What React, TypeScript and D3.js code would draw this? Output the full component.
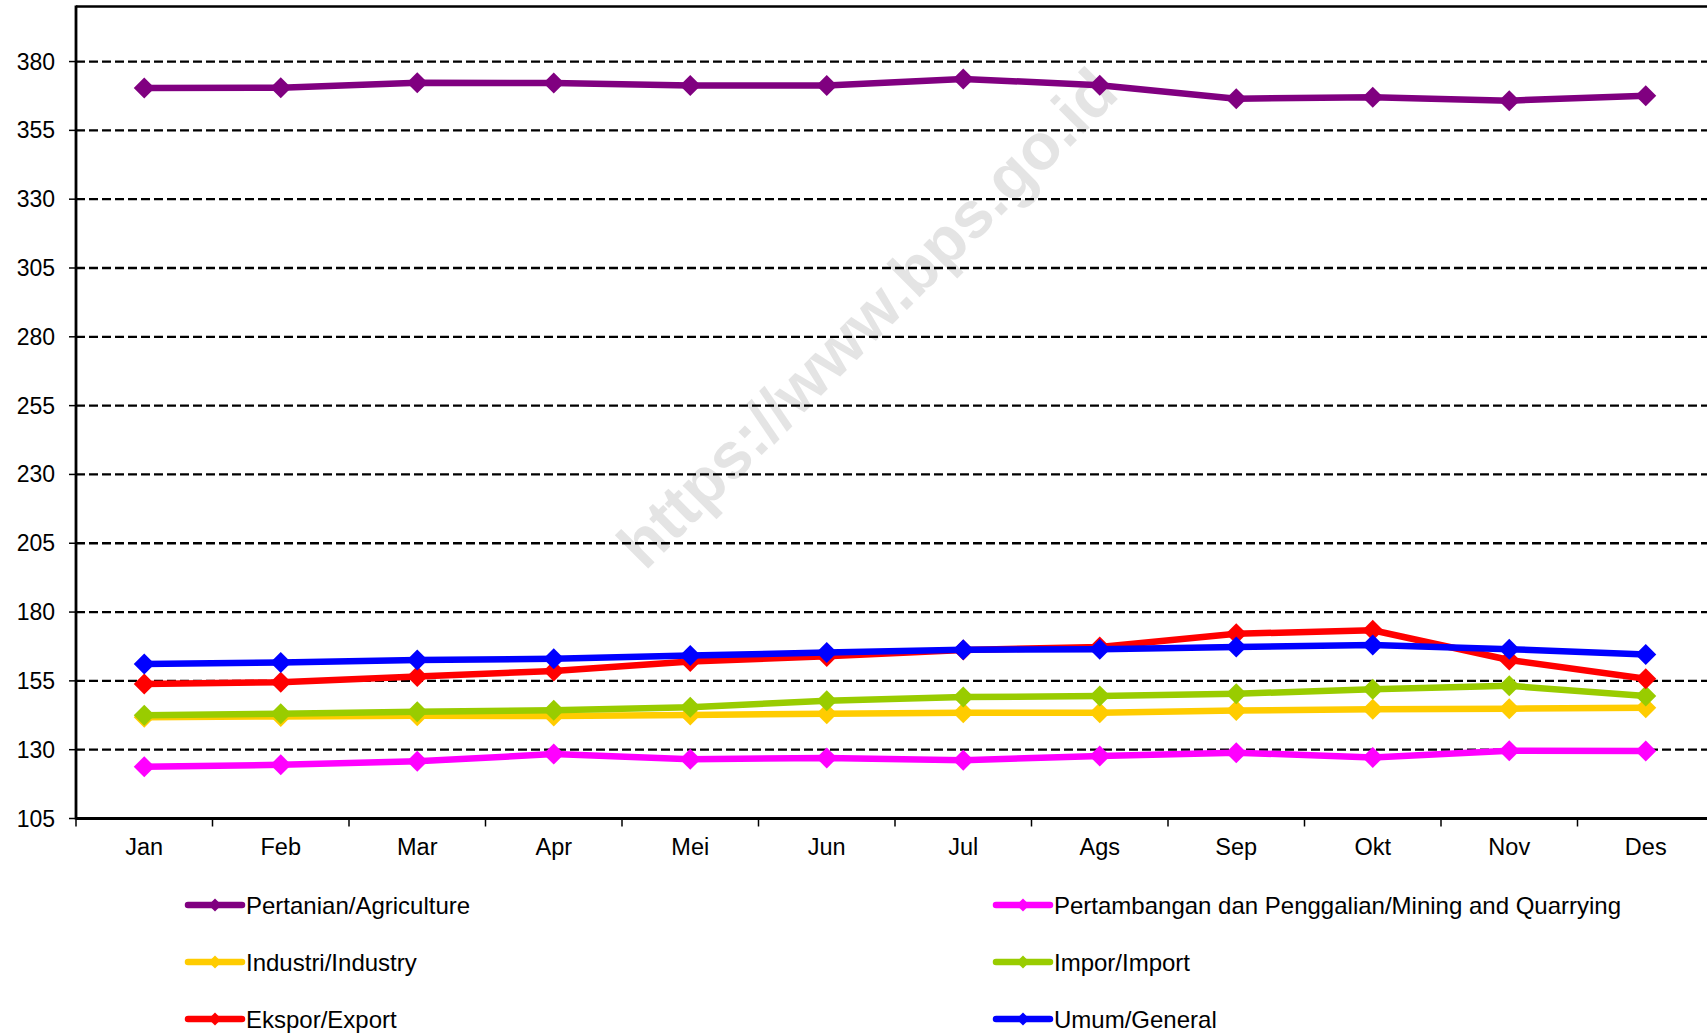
import React from "react";
import * as d3 from "d3";

const months = ["Jan", "Feb", "Mar", "Apr", "Mei", "Jun", "Jul", "Ags", "Sep", "Okt", "Nov", "Des"];
const yTicks = [105, 130, 155, 180, 205, 230, 255, 280, 305, 330, 355, 380];

const pertanian = [370.4, 370.5, 372.3, 372.2, 371.3, 371.3, 373.7, 371.4, 366.5, 367.0, 365.8, 367.6];
const pertambangan = [123.8, 124.5, 125.8, 128.4, 126.5, 127.0, 126.2, 127.7, 128.9, 127.2, 129.6, 129.5];
const industri = [141.8, 142.1, 142.3, 142.2, 142.6, 143.1, 143.4, 143.4, 144.2, 144.7, 144.9, 145.2];
const impor = [142.5, 143.1, 143.8, 144.3, 145.4, 147.8, 149.1, 149.5, 150.3, 152.0, 153.2, 149.5];
const ekspor = [153.9, 154.5, 156.6, 158.6, 162.0, 163.9, 166.2, 167.3, 172.1, 173.4, 162.6, 155.8];
const umum = [161.1, 161.7, 162.6, 163.0, 164.2, 165.3, 166.3, 166.5, 167.3, 168.0, 166.5, 164.6];

const seriesNames = [
  "Pertanian/Agriculture",
  "Pertambangan dan Penggalian/Mining and Quarrying",
  "Industri/Industry",
  "Impor/Import",
  "Ekspor/Export",
  "Umum/General",
];
const seriesColors = ["#800080", "#ff00ff", "#ffcc00", "#99cc00", "#ff0000", "#0000ff"];
const seriesValues = [pertanian, pertambangan, industri, impor, ekspor, umum];
const drawOrder = [0, 1, 2, 3, 4, 5];

const W = 1707;
const H = 1034;
const left = 76;
const top = 6.5;
const bottom = 818.5;
const band = 136.5;
const FONT = "'Liberation Sans', Arial, Helvetica, sans-serif";

export default function App() {
  const x = d3
    .scaleBand<string>()
    .domain(months)
    .range([left, left + band * months.length])
    .paddingInner(0)
    .paddingOuter(0);
  const y = d3.scaleLinear().domain([105, 400]).range([bottom, top]);
  const cx = (m: string) => (x(m) as number) + x.bandwidth() / 2;

  const line = d3
    .line<number>()
    .x((_, i) => cx(months[i]))
    .y((v) => y(v));

  const diamond = (px: number, py: number, r: number) =>
    `M${px},${py - r}L${px + r},${py}L${px},${py + r}L${px - r},${py}Z`;

  const legendItems = [
    { idx: 0, col: 0, row: 0 },
    { idx: 1, col: 1, row: 0 },
    { idx: 2, col: 0, row: 1 },
    { idx: 3, col: 1, row: 1 },
    { idx: 4, col: 0, row: 2 },
    { idx: 5, col: 1, row: 2 },
  ];
  const legendColX = [188, 996];
  const legendRowY = [905, 962, 1019];

  return (
    <svg
      width={W}
      height={H}
      style={{ position: "absolute", left: 0, top: 0, background: "#fff" }}
      fontFamily={FONT}
    >
      <rect x={0} y={0} width={W} height={H} fill="#fff" />
      <text
        x={0}
        y={0}
        transform={`translate(867,318) rotate(-45)`}
        textAnchor="middle"
        dominantBaseline="central"
        fontSize={65}
        fontWeight="bold"
        fill="#e4e4e4"
      >
        https://www.bps.go.id
      </text>
      {yTicks.slice(1).map((t) => (
        <line
          key={t}
          x1={left}
          x2={W}
          y1={y(t)}
          y2={y(t)}
          stroke="#000"
          strokeWidth={2.3}
          strokeDasharray="9,4"
        />
      ))}
      <line x1={left} x2={W} y1={top} y2={top} stroke="#000" strokeWidth={2.5} />
      <line x1={left} x2={left} y1={top - 1} y2={bottom + 1} stroke="#000" strokeWidth={2.8} />
      {yTicks.map((t) => (
        <g key={t}>
          <line x1={left - 7} x2={left} y1={y(t)} y2={y(t)} stroke="#000" strokeWidth={1.5} />
          <text
            x={55}
            y={y(t)}
            textAnchor="end"
            dominantBaseline="central"
            fontSize={23}
            fill="#000"
          >
            {t}
          </text>
        </g>
      ))}
      <line x1={left} x2={W} y1={bottom} y2={bottom} stroke="#000" strokeWidth={3} />
      {months.map((m) => (
        <line
          key={m}
          x1={x(m) as number}
          x2={x(m) as number}
          y1={bottom}
          y2={bottom + 8}
          stroke="#000"
          strokeWidth={1.5}
        />
      ))}
      {months.map((m) => (
        <text key={m} x={cx(m)} y={855} textAnchor="middle" fontSize={23.5} fill="#000">
          {m}
        </text>
      ))}
      {drawOrder.map((si) => (
        <g key={si}>
          <path
            d={line(seriesValues[si]) || ""}
            fill="none"
            stroke={seriesColors[si]}
            strokeWidth={6.5}
            strokeLinejoin="round"
          />
          {seriesValues[si].map((v, i) => (
            <path key={i} d={diamond(cx(months[i]), y(v), 10.5)} fill={seriesColors[si]} />
          ))}
        </g>
      ))}
      {legendItems.map(({ idx, col, row }) => {
        const lx = legendColX[col];
        const ly = legendRowY[row];
        return (
          <g key={idx}>
            <line
              x1={lx}
              x2={lx + 54}
              y1={ly}
              y2={ly}
              stroke={seriesColors[idx]}
              strokeWidth={6.5}
              strokeLinecap="round"
            />
            <path d={diamond(lx + 27, ly, 6.5)} fill={seriesColors[idx]} />
            <text x={lx + 58} y={ly} dominantBaseline="central" fontSize={24} fill="#000">
              {seriesNames[idx]}
            </text>
          </g>
        );
      })}
    </svg>
  );
}
